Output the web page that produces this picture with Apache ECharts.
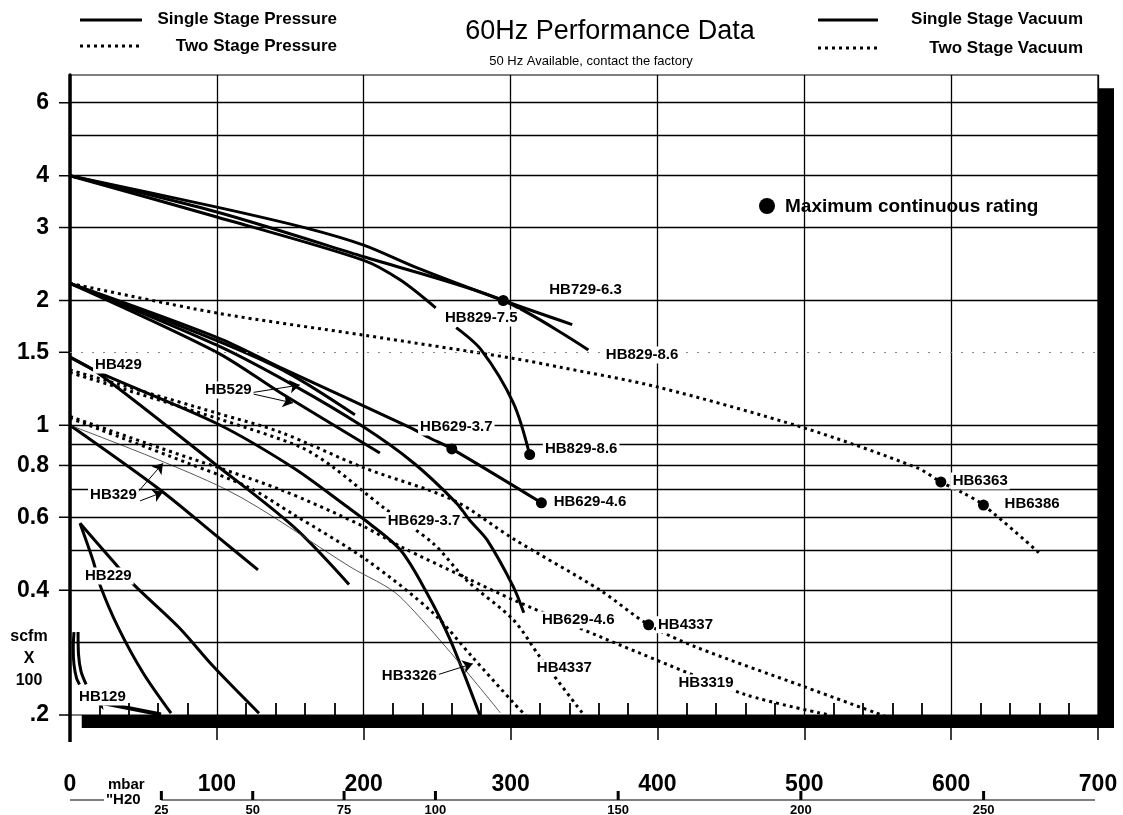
<!DOCTYPE html>
<html>
<head>
<meta charset="utf-8">
<script src="https://cdn.jsdelivr.net/npm/echarts@6/dist/echarts.min.js"></script>
<style>
  html, body { margin: 0; background: #fff; }
  #chart { width: 1123px; height: 815px; }
</style>
</head>
<body>
<div id="chart"></div>
<script>
// axis values
const yLabelValues = [6, 4, 3, 2, 1.5, 1, 0.8, 0.6, 0.4, 0.2];
const yGridValues = [6, 5, 4, 3, 2, 1, 0.9, 0.8, 0.7, 0.6, 0.5, 0.4, 0.3];
const yDottedGrid = [1.5];
const inH2OTicks = [25, 50, 75, 100, 150, 200, 250];
const MBAR_PER_INH2O = 2.4884;

// single stage curves [mbar, scfm x 100]
const hb729_63 = [[0,4.0],[100,3.36],[161,2.99],[200,2.72],[236,2.40],[295,2.0],[342,1.75]];
const hb829_86p = [[0,4.0],[100,3.27],[200,2.55],[295,2.0],[353,1.52]];
const hb829_75 = [[0,4.0],[100,3.18],[200,2.50],[225,2.24],[249,1.92]];
const hb829_86v = [[263,1.72],[280,1.52],[302,1.13],[313,0.85]];
const hb629_up = [[0,2.2],[100,1.63],[143,1.38],[231,0.99],[245,0.932],[260,0.877],[321,0.65]];
const hb529_a = [[0,2.2],[100,1.60],[148,1.34],[194,1.06]];
const hb529_b = [[0,2.2],[100,1.50],[143,1.20],[211,0.857]];
const hb629_low = [[0,2.2],[100,1.56],[152,1.25],[200,0.99],[234,0.811],[263,0.65],[272,0.591],[284,0.529],[302,0.407],[309,0.353]];
const hb3326 = [[0,1.46],[20,1.34],[100,1.01],[152,0.79],[189,0.635],[201,0.59],[225,0.50],[243,0.394],[259,0.303],[279,0.2]];
const hb429 = [[0,1.46],[20,1.33],[100,0.80],[152,0.57],[190,0.413]];
const hb329 = [[0,1.0],[61,0.70],[100,0.54],[128,0.448]];
const hb229_a = [[6.8,0.58],[15.9,0.469],[20.4,0.412],[32.7,0.326],[49.7,0.253],[68.8,0.202]];
const hb229_b = [[6.8,0.58],[29.5,0.469],[43.6,0.412],[73.9,0.326],[98,0.261],[128.7,0.202]];
const hb129_a = [[2.7,0.317],[2.2,0.29],[2.7,0.265],[4.5,0.245],[6.5,0.237]];
const hb129_b = [[5.5,0.317],[5.8,0.28],[7.5,0.255],[11,0.237]];

// two stage curves
const hb6363 = [[0,2.2],[100,1.866],[200,1.65],[302,1.45],[334,1.38],[400,1.237],[500,0.985],[577,0.789],[593,0.73],[608,0.687],[622,0.642],[660,0.492]];
const hb4337 = [[0,1.36],[100,1.07],[143,0.963],[200,0.79],[261,0.66],[302,0.532],[361,0.40],[394,0.33],[426,0.292],[500,0.234],[556,0.198]];
const hb4337_b = [[0,1.34],[100,1.04],[157,0.886],[179,0.793],[213,0.635],[247,0.52],[270,0.423],[302,0.339],[320,0.276],[349,0.202]];
const hb3319 = [[0,1.05],[62,0.88],[143,0.70],[200,0.57],[225,0.51],[270,0.428],[302,0.379],[388,0.282],[460,0.224],[517,0.2]];
const hb3326_2 = [[0,1.04],[80,0.811],[121,0.71],[152,0.61],[202,0.473],[247,0.353],[274,0.276],[302,0.214],[311,0.198]];
const hb3326_thin = [[0,1.0],[107,0.698],[191,0.455],[225,0.385],[293,0.2025]];

// maximum continuous rating points
const ratingPoints = [[295,2.0],[313,0.85],[260,0.877],[321,0.65],[394,0.33],[593,0.73],[622,0.642]];

// curve names [mbar, scfm, text]
const curveLabels = [
  [325,2.12,'HB729-6.3'], [254,1.815,'HB829-7.5'], [363.5,1.478,'HB829-8.6'],
  [322,0.877,'HB829-8.6'], [237,0.99,'HB629-3.7'], [328,0.653,'HB629-4.6'],
  [215,0.588,'HB629-3.7'], [320,0.339,'HB629-4.6'], [399,0.33,'HB4337'],
  [316.5,0.26,'HB4337'], [413,0.239,'HB3319'], [211,0.248,'HB3326'],
  [599.7,0.734,'HB6363'], [635,0.646,'HB6386'], [15.7,1.398,'HB429'],
  [90.5,1.217,'HB529'], [12.3,0.679,'HB329'], [8.85,0.433,'HB229'], [4.8,0.221,'HB129']
];

// pointer arrows [from, to]
const arrows = [
  [[124.6,1.20],[156.5,1.251]],
  [[124.6,1.19],[151.8,1.132]],
  [[45.6,0.686],[63.3,0.81]],
  [[47.7,0.657],[63.3,0.69]],
  [[248.5,0.249],[274.3,0.266]]
];
const hb129Arrow = [[62,0.2005],[17,0.2155]];

const FONT = "'Liberation Sans', Arial, sans-serif";
const DOT = [3, 4];

function curve(name, data, dotted) {
  return {
    name: name, type: 'line', data: data, smooth: 0.3, showSymbol: false, z: 3,
    lineStyle: { color: '#000', width: 3, type: dotted ? DOT : 'solid' }
  };
}

const series = [
  {
    type: 'line', data: [], z: 1,
    markLine: {
      silent: true, symbol: 'none', label: { show: false }, animation: false,
      lineStyle: { color: '#000', width: 1.3, type: 'solid' },
      data: yGridValues.map(v => ({ yAxis: v })).concat(
        yDottedGrid.map(v => ({ yAxis: v, lineStyle: { color: '#888', width: 1.2, type: [2, 9] } })))
    }
  },
  curve('HB729-6.3', hb729_63),
  curve('HB829-8.6', hb829_86p),
  curve('HB829-7.5', hb829_75),
  curve('HB829-8.6 vac', hb829_86v),
  curve('HB629 upper', hb629_up),
  curve('HB529 a', hb529_a),
  curve('HB529 b', hb529_b),
  curve('HB629 lower', hb629_low),
  curve('HB3326', hb3326),
  curve('HB429', hb429),
  curve('HB329', hb329),
  curve('HB229 a', hb229_a),
  curve('HB229 b', hb229_b),
  curve('HB129 a', hb129_a),
  curve('HB129 b', hb129_b),
  curve('HB6363', hb6363, true),
  curve('HB4337', hb4337, true),
  curve('HB4337 b', hb4337_b, true),
  curve('HB3319', hb3319, true),
  curve('HB3326 two stage', hb3326_2, true),
  {
    name: 'HB3326 thin', type: 'line', data: hb3326_thin, smooth: 0.3, showSymbol: false, z: 3,
    lineStyle: { color: '#444', width: 0.9 }
  },
  {
    name: 'rating', type: 'scatter', data: ratingPoints, symbolSize: 11, z: 5,
    itemStyle: { color: '#000', opacity: 1 }, silent: true
  },
  {
    name: 'labels', type: 'scatter', data: curveLabels, symbolSize: 0, z: 6, silent: true,
    itemStyle: { opacity: 1 },
    label: {
      show: true, position: 'right', distance: 0, formatter: p => p.data[2],
      color: '#000', fontFamily: FONT, fontWeight: 'bold', fontSize: 15,
      backgroundColor: '#fff', padding: [1, 2]
    },
    markLine: {
      silent: true, animation: false, symbol: ['none', 'arrow'], symbolSize: 10,
      label: { show: false },
      lineStyle: { color: '#000', width: 1, type: 'solid', opacity: 1 },
      data: arrows.map(a => [{ coord: a[0] }, { coord: a[1] }]).concat([
        [{ coord: hb129Arrow[0], lineStyle: { width: 4 } }, { coord: hb129Arrow[1] }]
      ])
    }
  }
];

const option = {
  animation: false,
  backgroundColor: '#fff',
  textStyle: { fontFamily: FONT },
  grid: { left: 70, right: 25, top: 75, bottom: 100, show: true, borderColor: '#000', borderWidth: 1.2 },
  xAxis: [
    {
      type: 'value', min: 0, max: 700, interval: 100, position: 'bottom',
      axisLine: { show: false },
      axisTick: { show: true, length: 25, lineStyle: { color: '#000', width: 1.5 } },
      axisLabel: { margin: 58, fontSize: 23, fontWeight: 'bold', color: '#000', fontFamily: FONT },
      splitLine: { show: true, lineStyle: { color: '#000', width: 1.3 } }
    },
    {
      type: 'value', min: 0, max: 700, interval: 100, position: 'bottom',
      axisLine: { show: false }, axisLabel: { show: false }, splitLine: { show: false },
      axisTick: { show: false, inside: true },
      minorTick: { show: true, splitNumber: 5, length: 12, lineStyle: { color: '#000', width: 1.8 } }
    }
  ],
  yAxis: {
    type: 'log', logBase: 10, min: 0.2, max: 7,
    axisLine: { show: true, lineStyle: { color: '#000', width: 3.5 } },
    axisTick: { show: false }, axisLabel: { show: false }, splitLine: { show: false }
  },
  series: series
};

const chart = echarts.init(document.getElementById('chart'));
chart.setOption(option);

// decorations placed through the chart's own scales
const px = v => chart.convertToPixel({ xAxisIndex: 0 }, v);
const py = v => chart.convertToPixel({ yAxisIndex: 0 }, v);
const x0 = px(0), xEnd = px(700), yBot = py(0.2);

function txt(x, y, str, font, align) {
  return {
    type: 'text', x: x, y: y, z: 50,
    style: {
      text: str, font: font, fill: '#000',
      align: align || 'left', textAlign: align || 'left',
      verticalAlign: 'middle', textVerticalAlign: 'middle'
    }
  };
}
function seg(x1, y1, x2, y2, w, dash) {
  return {
    type: 'line', z: 50, shape: { x1: x1, y1: y1, x2: x2, y2: y2 },
    style: { stroke: '#000', lineWidth: w, lineDash: dash || null }
  };
}

const g = [];
// y tick labels and ticks
yLabelValues.forEach(v => {
  const y = py(v);
  g.push(seg(x0 - 11, y, x0, y, 1.5));
  g.push(txt(x0 - 21, y, v === 0.2 ? '.2' : String(v), 'bold 23px ' + FONT, 'right'));
});
g.push(txt(29, 637, 'scfm', 'bold 16px ' + FONT, 'center'));
g.push(txt(29, 659, 'X', 'bold 16px ' + FONT, 'center'));
g.push(txt(29, 681, '100', 'bold 16px ' + FONT, 'center'));
// heavy frame bars and axis extension
g.push({ type: 'rect', z: 40, shape: { x: px(8), y: yBot, width: xEnd - px(8) + 2, height: 13 }, style: { fill: '#000' } });
g.push({ type: 'rect', z: 40, shape: { x: xEnd + 1, y: py(6.5), width: 15, height: yBot + 13 - py(6.5) }, style: { fill: '#000' } });
g.push(seg(x0, yBot, x0, yBot + 27, 3.5));
// mbar / inch H2O scale
g.push(txt(108, 785, 'mbar', 'bold 15px ' + FONT, 'left'));
const yH = yBot + 85;
g.push(seg(x0, yH, x0 + 34, yH, 1.2));
g.push(txt(106, yH, '"H20', 'bold 15px ' + FONT, 'left'));
g.push(seg(px(inH2OTicks[0] * MBAR_PER_INH2O), yH, xEnd - 3, yH, 1.2));
inH2OTicks.forEach(v => {
  const x = px(v * MBAR_PER_INH2O);
  g.push(seg(x, yH - 9, x, yH, 3));
  g.push(txt(x, yH + 10, String(v), 'bold 13px ' + FONT, 'center'));
});
// title
g.push(txt(610, 32, '60Hz Performance Data', '27px ' + FONT, 'center'));
g.push(txt(591, 61, '50 Hz Available, contact the factory', '13px ' + FONT, 'center'));
// legend
g.push(seg(80, 20, 142, 20, 3));
g.push(txt(337, 19, 'Single Stage Pressure', 'bold 17px ' + FONT, 'right'));
g.push(seg(80, 46, 142, 46, 3, DOT));
g.push(txt(337, 46, 'Two Stage Pressure', 'bold 17px ' + FONT, 'right'));
g.push(seg(818, 20, 878, 20, 3));
g.push(txt(1083, 19, 'Single Stage Vacuum', 'bold 17px ' + FONT, 'right'));
g.push(seg(818, 48, 878, 48, 3, DOT));
g.push(txt(1083, 48, 'Two Stage Vacuum', 'bold 17px ' + FONT, 'right'));
// rating key
g.push({ type: 'circle', z: 50, shape: { cx: 767, cy: 206, r: 8 }, style: { fill: '#000' } });
g.push(txt(785, 207, 'Maximum continuous rating', 'bold 19px ' + FONT, 'left'));

chart.setOption({ graphic: { elements: g } });
</script>
</body>
</html>
